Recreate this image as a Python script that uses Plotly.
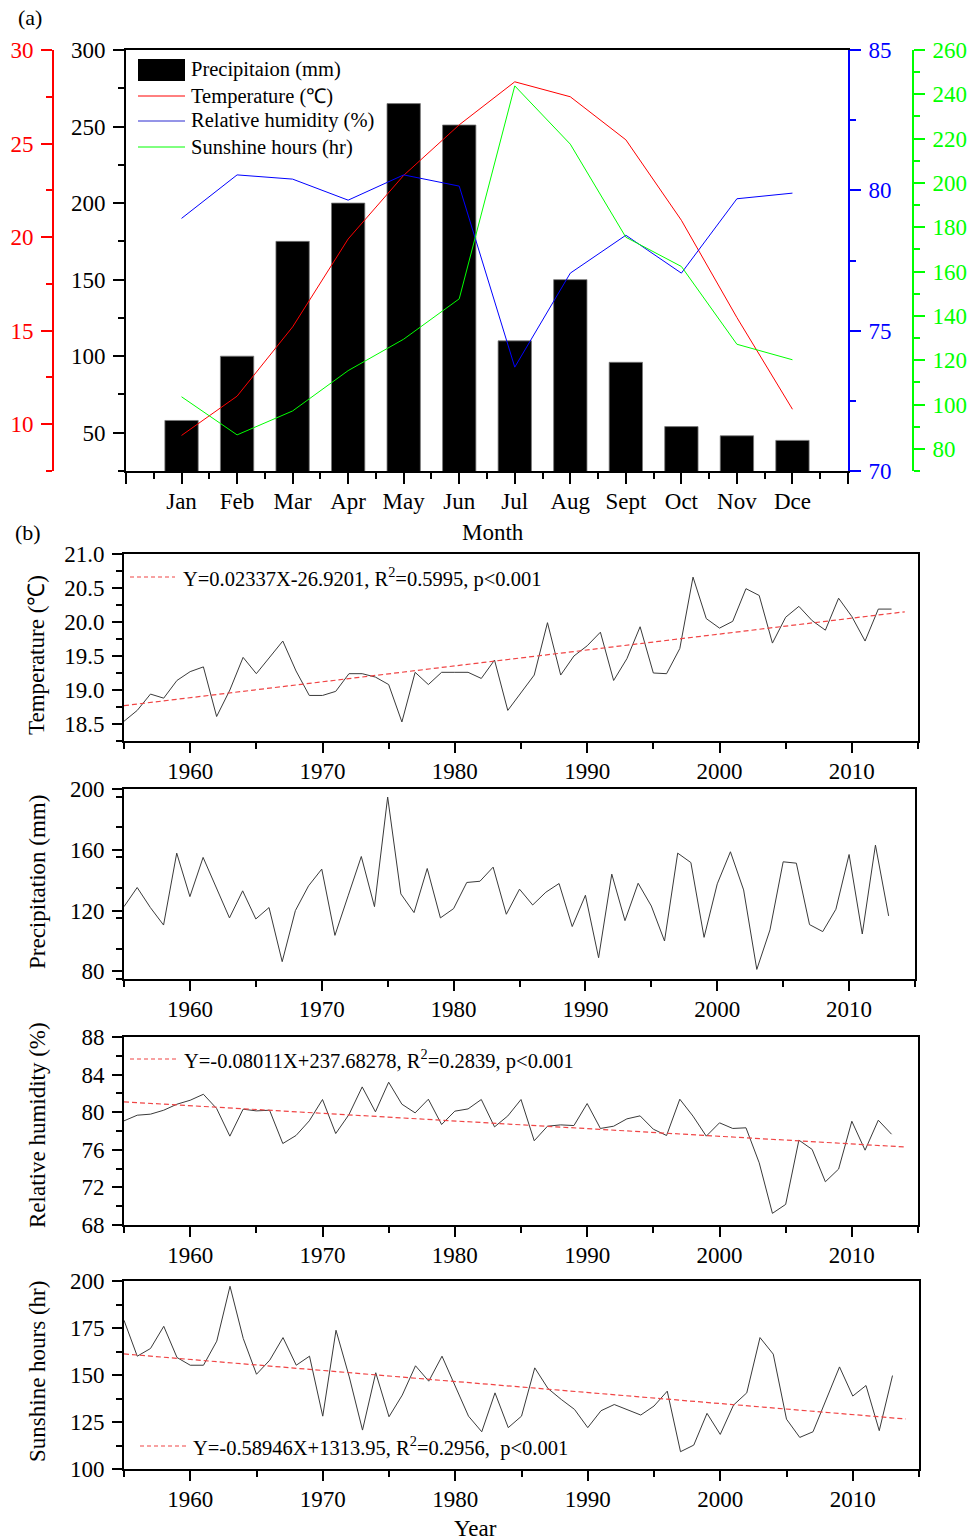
import plotly.graph_objects as go

# ---------------- data: panel (a) monthly means ----------------
months = ["Jan", "Feb", "Mar", "Apr", "May", "Jun", "Jul", "Aug", "Sept", "Oct", "Nov", "Dce"]
precip_month = [58, 100, 175, 200, 265, 251, 110, 150, 96, 54, 48, 45]
temp_month = [9.4, 11.5, 15.2, 19.9, 23.3, 26.0, 28.3, 27.5, 25.2, 20.9, 15.7, 10.8]
rh_month = [79.0, 80.55, 80.4, 79.65, 80.55, 80.15, 73.7, 77.05, 78.4, 77.05, 79.7, 79.9]
sun_month = [103.5, 86.3, 97.1, 115.3, 129.5, 147.7, 243.8, 217.5, 175.5, 162.3, 127.2, 120.2]

# ---------------- data: panel (b) annual series 1955-2013 ----------------
years = list(range(1955, 2014))
temp_year = [18.54, 18.70, 18.94, 18.88, 19.14, 19.27, 19.34, 18.61, 19.00, 19.48,
             19.24, 19.48, 19.72, 19.28, 18.92, 18.92, 18.98, 19.24, 19.24, 19.19,
             19.08, 18.53, 19.26, 19.08, 19.26, 19.26, 19.26, 19.17, 19.44, 18.70,
             18.96, 19.22, 19.99, 19.22, 19.50, 19.65, 19.85, 19.14, 19.46, 19.93,
             19.25, 19.24, 19.61, 20.66, 20.05, 19.91, 20.01, 20.49, 20.39, 19.69,
             20.07, 20.23, 20.02, 19.88, 20.35, 20.08, 19.72, 20.19, 20.19]
precip_year = [122.6, 135.2, 122, 110.5, 157.8, 129.2, 155, 135.4, 115.2, 133,
               114.5, 122, 86.4, 120, 136.3, 147.3, 103.7, 129.7, 155.6, 122.6,
               194.7, 131, 118.7, 147.7, 115.2, 121.3, 138.5, 139.3, 148.6, 117.6,
               134.1, 123.7, 132.1, 137.8, 109.5, 130.1, 89, 144, 113.4, 138,
               123, 100, 157.8, 151.6, 102.4, 137.6, 158.7, 133.6, 81.3, 107.3,
               152.1, 151.2, 110.8, 106.2, 120.9, 156.9, 104.6, 163.1, 116.5]
rh_year = [79.08, 79.68, 79.79, 80.21, 80.85, 81.27, 81.91, 80.39, 77.45, 80.32,
           80.14, 80.21, 76.67, 77.52, 79.08, 81.35, 77.73, 79.75, 82.69, 80.04,
           83.19, 80.85, 79.93, 81.38, 78.69, 80.11, 80.35, 81.35, 78.44, 79.6,
           81.35, 76.96, 78.51, 78.65, 78.58, 80.92, 78.27, 78.51, 79.29, 79.61,
           78.19, 77.52, 81.38, 79.58, 77.45, 78.87, 78.27, 78.34, 74.62, 69.24,
           70.19, 77.03, 76.04, 72.6, 73.95, 79.04, 75.96, 79.15, 77.66]
sun_year = [179.1, 160, 164.1, 175.9, 159.3, 155.2, 155.2, 168, 197.2, 169.4,
            150.4, 157.9, 169.9, 155.2, 160, 128.1, 173.8, 149, 120.7, 151.2,
            127.8, 139.3, 154.9, 146.7, 160, 143.7, 128.1, 119.8, 140.5, 122,
            128.1, 153.8, 142.8, 137, 131.7, 122, 131, 134.3, 131.3, 128.7,
            133.5, 141.4, 109.2, 112.7, 129.6, 118.4, 134, 140.5, 169.9, 161.1,
            126.5, 116.8, 119.8, 137.5, 154.3, 138.8, 144.4, 120.4, 149.7]

# fitted trend lines (end points)
trend_years = [1955, 2014]
temp_trend = [18.77, 20.15]
rh_trend = [81.1, 76.3]
sun_trend = [161.2, 126.6]

temp_eq = "Y=0.02337X-26.9201, R<sup>2</sup>=0.5995, p&lt;0.001"
rh_eq = "Y=-0.08011X+237.68278, R<sup>2</sup>=0.2839, p&lt;0.001"
sun_eq = "Y=-0.58946X+1313.95, R<sup>2</sup>=0.2956,\u00a0 p&lt;0.001"

# ---------------- helpers ----------------
W, H = 980, 1540
FONT = "Times New Roman, Liberation Serif, serif"
RED, BLUE, GREEN = "#ff0000", "#0000ff", "#00ff00"
TREND = "#f04545"
TICK_SIZE = 23


def px(x):
    return x / W


def py(y):
    return 1 - y / H


month_x = list(range(1, len(months) + 1))

fig = go.Figure()

# panel (a)
fig.add_trace(go.Bar(x=month_x, y=precip_month, width=0.6, marker=dict(color="black", line=dict(color="#777", width=0.8)),
                     xaxis="x", yaxis="y", showlegend=False))
fig.add_trace(go.Scatter(x=month_x, y=temp_month, mode="lines", line=dict(color=RED, width=1),
                         xaxis="x", yaxis="y2", showlegend=False))
fig.add_trace(go.Scatter(x=month_x, y=rh_month, mode="lines", line=dict(color=BLUE, width=1),
                         xaxis="x", yaxis="y3", showlegend=False))
fig.add_trace(go.Scatter(x=month_x, y=sun_month, mode="lines", line=dict(color=GREEN, width=1),
                         xaxis="x", yaxis="y4", showlegend=False))

# panel (b)
series = [(temp_year, temp_trend), (precip_year, None), (rh_year, rh_trend), (sun_year, sun_trend)]
for i, (vals, tr) in enumerate(series):
    xa = "x%d" % (i + 2)
    ya = "y%d" % (i + 5)
    fig.add_trace(go.Scatter(x=years, y=vals, mode="lines", line=dict(color="#3a3a3a", width=1),
                             xaxis=xa, yaxis=ya, showlegend=False))
    if tr is not None:
        fig.add_trace(go.Scatter(x=trend_years, y=tr, mode="lines",
                                 line=dict(color=TREND, width=1.2, dash="5px,3px"),
                                 xaxis=xa, yaxis=ya, showlegend=False))

tickfont = dict(family=FONT, size=TICK_SIZE, color="black")


def yax(color, rng, dtick, mdtick, **kw):
    d = dict(range=rng, tick0=0, dtick=dtick, ticks="outside", ticklen=11, tickwidth=2,
             tickcolor=color, linecolor=color, linewidth=2, showline=True, showgrid=False,
             zeroline=False, tickfont=dict(family=FONT, size=TICK_SIZE, color=color), ticklabelstandoff=3,
             automargin=False,
             minor=dict(ticks="outside", ticklen=6, tickwidth=1.5, tickcolor=color, tick0=0, dtick=mdtick,
                        showgrid=False))
    d.update(kw)
    return d


layout = dict(
    width=W, height=H, autosize=False, margin=dict(l=0, r=0, t=0, b=0, pad=0),
    paper_bgcolor="white", plot_bgcolor="white", showlegend=False,
    font=dict(family=FONT, size=21, color="black"),
    xaxis=dict(domain=[px(126), px(848)], anchor="y", range=[0, 13],
               tickmode="array", tickvals=list(range(0, 14)), ticktext=[""] + months + [""],
               ticks="outside", ticklen=11, tickwidth=2, tickcolor="black", showline=True, linewidth=2,
               linecolor="black", mirror=True, showgrid=False, zeroline=False, tickfont=tickfont,
               ticklabelstandoff=-3, automargin=False,
               minor=dict(ticks="outside", ticklen=6, tickwidth=1.5, tickcolor="black", tick0=0.5, dtick=1,
                          showgrid=False)),
    yaxis=yax("black", [25, 300], 50, 25, domain=[py(471), py(50)], anchor="x", side="left"),
    yaxis2=yax(RED, [7.5, 30], 5, 2.5, overlaying="y", anchor="free", position=px(53), side="left"),
    yaxis3=yax(BLUE, [70, 85], 5, 2.5, overlaying="y", anchor="x", side="right"),
    yaxis4=yax(GREEN, [70, 260], 20, 10, overlaying="y", anchor="free", position=px(913), side="right"),
)

# panel (b) axes
b_boxes = [  # (left, right, top, bottom) in pixels
    (124, 918, 554, 741),
    (124, 915, 789, 979),
    (124, 918, 1037, 1225),
    (124, 919, 1281, 1469),
]
b_y = [
    dict(range=[18.25, 21.0], tickvals=[18.5, 19.0, 19.5, 20.0, 20.5, 21.0], tickformat=".1f", mdt=0.25),
    dict(range=[75, 200], tickvals=[80, 120, 160, 200], mdt=20),
    dict(range=[68, 88], tickvals=[68, 72, 76, 80, 84, 88], mdt=2),
    dict(range=[100, 200], tickvals=[100, 125, 150, 175, 200], mdt=12.5),
]
for i, (box, yy) in enumerate(zip(b_boxes, b_y)):
    l, r, t, b = box
    xn = "xaxis%d" % (i + 2)
    yn = "yaxis%d" % (i + 5)
    layout[xn] = dict(domain=[px(l), px(r)], anchor="y%d" % (i + 5), range=[1955, 2015], tick0=1960, dtick=10,
                      ticks="outside", ticklen=10, tickwidth=2, tickcolor="black", showline=True, linewidth=2,
                      linecolor="black", mirror=True, showgrid=False, zeroline=False, tickfont=tickfont,
                      ticklabelstandoff=-2, automargin=False,
                      minor=dict(ticks="outside", ticklen=6, tickwidth=1.5, tickcolor="black", tick0=1955,
                                 dtick=5, showgrid=False))
    yd = dict(domain=[py(b), py(t)], anchor="x%d" % (i + 2), range=yy["range"], tickmode="array",
              tickvals=yy["tickvals"], ticks="outside", ticklen=10, tickwidth=2, tickcolor="black",
              showline=True, linewidth=2, linecolor="black", mirror=True, showgrid=False, zeroline=False,
              tickfont=tickfont, ticklabelstandoff=3, automargin=False,
              minor=dict(ticks="outside", ticklen=6, tickwidth=1.5, tickcolor="black",
                         tick0=yy["range"][0], dtick=yy["mdt"], showgrid=False))
    if "tickformat" in yy:
        yd["tickformat"] = yy["tickformat"]
    layout[yn] = yd

fig.update_layout(**layout)

# ---------------- manual legend for panel (a) ----------------
shapes = []
annos = []
leg_items = [("Precipitaion (mm)", "bar", "black", 70),
             ("Temperature (℃)", "line", RED, 96),
             ("Relative humidity (%)", "line", "#2b2bd0", 121),
             ("Sunshine hours (hr)", "line", GREEN, 147)]
for label, kind, col, yc in leg_items:
    if kind == "bar":
        shapes.append(dict(type="rect", xref="paper", yref="paper", x0=px(138), x1=px(185), y0=py(81), y1=py(59),
                           fillcolor="black", line=dict(width=0)))
    else:
        shapes.append(dict(type="line", xref="paper", yref="paper", x0=px(138), x1=px(185), y0=py(yc), y1=py(yc),
                           line=dict(color=col, width=1)))
    annos.append(dict(text=label, xref="paper", yref="paper", x=px(189), y=py(yc), xanchor="left",
                      yanchor="middle", showarrow=False, font=dict(family=FONT, size=20.5, color="black")))

# trend legends for panel (b)
for (x0, x1, yc, tx, txt) in [(130, 175, 577, 181, temp_eq), (130, 178, 1059, 182, rh_eq),
                              (140, 187, 1446, 191, sun_eq)]:
    shapes.append(dict(type="line", xref="paper", yref="paper", x0=px(x0), x1=px(x1), y0=py(yc), y1=py(yc),
                       line=dict(color=TREND, width=1.2, dash="4px,3px")))
    annos.append(dict(text=txt, xref="paper", yref="paper", x=px(tx), y=py(yc), xanchor="left",
                      yanchor="middle", showarrow=False, font=dict(family=FONT, size=20.5, color="black")))

# panel labels and axis titles
for txt, x, y, s in [("(a)", 30, 18, 22), ("(b)", 28, 533, 22), ("Month", 493, 533, 23), ("Year", 475, 1528, 23)]:
    annos.append(dict(text=txt, xref="paper", yref="paper", x=px(x), y=py(y), xanchor="center",
                      yanchor="middle", showarrow=False, font=dict(family=FONT, size=s, color="black")))
for txt, x, y in [("Temperature (℃)", 36, 655), ("Precipitation (mm)", 37, 882),
                  ("Relative humidity (%)", 37, 1125), ("Sunshine hours (hr)", 37, 1372)]:
    annos.append(dict(text=txt, xref="paper", yref="paper", x=px(x), y=py(y), xanchor="center",
                      yanchor="middle", textangle=-90, showarrow=False,
                      font=dict(family=FONT, size=23, color="black")))

fig.update_layout(shapes=shapes, annotations=annos)
fig.write_html("out.html")
